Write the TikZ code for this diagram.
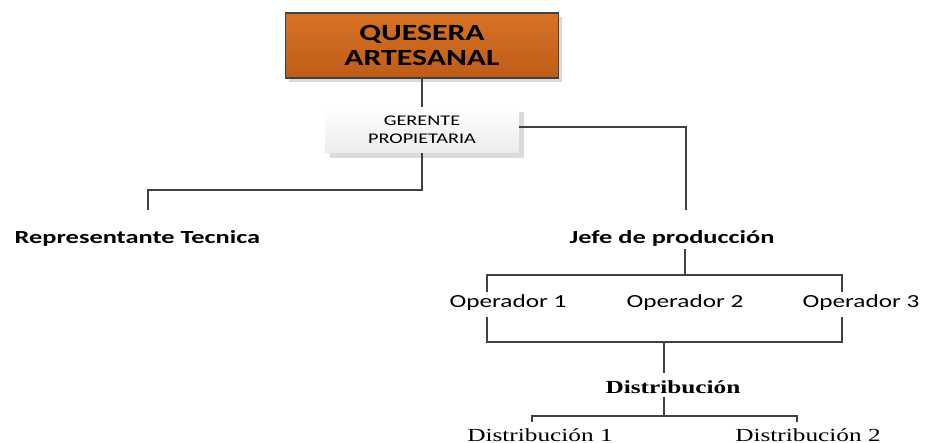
\documentclass[tikz,border=0pt]{standalone}
\usepackage{fontspec}
\setmainfont{Carlito}
\newfontfamily\distfont{Liberation Serif}
\usepackage{graphicx}
\usepackage{xcolor}
\definecolor{orange-top}{RGB}{216,114,36}
\definecolor{orange-bottom}{RGB}{190,92,24}
\definecolor{gray-800}{RGB}{64,64,64}
\definecolor{gray-250}{RGB}{218,218,218}
\definecolor{gray-100}{RGB}{236,236,236}
\usepackage{tikz}
\usetikzlibrary{shadows}

\newcommand{\widetext}[1]{\scalebox{1.37}[1]{#1}}
\newcommand{\widerbold}[1]{\scalebox{1.43}[1]{#1}}

\begin{document}
\begin{tikzpicture}[
    x=0.02cm, y=-0.02cm,
    every node/.style={inner sep=0pt},
    link/.style={draw=gray-800, line width=1.3pt},
    orgtext/.style={font=\fontsize{10.5}{12}\selectfont\bfseries}
]

\useasboundingbox (0,0) rectangle (938,443);

% Company box
\node[
    draw=gray-800,
    line width=0.8pt,
    top color=orange-top,
    bottom color=orange-bottom,
    minimum width=5.46cm,
    minimum height=1.3cm,
    align=center,
    font=\fontsize{13.2}{14.5}\selectfont\bfseries,
    drop shadow={shadow xshift=2.2pt, shadow yshift=-2.2pt, fill=gray-250, opacity=1}
] (quesera) at (422,45.5) {\widetext{QUESERA}\\\widetext{ARTESANAL}};

% Manager box
\node[
    top color=white,
    bottom color=gray-100,
    minimum width=3.88cm,
    minimum height=0.92cm,
    align=center,
    font=\fontsize{8.4}{10.2}\selectfont,
    drop shadow={shadow xshift=2.8pt, shadow yshift=-2.8pt, fill=gray-250, opacity=1}
] (gerente) at (422,130) {\widetext{GERENTE}\\\widetext{PROPIETARIA}};

% Second level
\node[orgtext] (rep) at (137.5,238) {\widerbold{Representante Tecnica}};
\node[orgtext] (jefe) at (672,238) {\widerbold{Jefe de producción}};

% Operators
\node[font=\fontsize{10.5}{12}\selectfont] (op1) at (508,303) {\widetext{Operador 1}};
\node[font=\fontsize{10.5}{12}\selectfont] (op2) at (685,303) {\widetext{Operador 2}};
\node[font=\fontsize{10.5}{12}\selectfont] (op3) at (861,303) {\widetext{Operador 3}};

% Distribution
\node[font=\distfont\fontsize{10.5}{12}\selectfont\bfseries] (dist) at (673,387) {\widetext{Distribución}};
\node[font=\distfont\fontsize{10.5}{12}\selectfont] (dist1) at (540,435) {\widetext{Distribución 1}};
\node[font=\distfont\fontsize{10.5}{12}\selectfont] (dist2) at (808,435) {\widetext{Distribución 2}};

% Connectors
\draw[link] (quesera.south) -- (gerente.north);
\draw[link] ([yshift=0.06cm]gerente.east) -| ([shift={(14,-28)}]jefe.center);
\draw[link] (gerente.south) -- ++(0,37) -| ([shift={(10.5,-28)}]rep.center);

\draw[link] ([shift={(13,11)}]jefe.center) -- ++(0,26) coordinate (opbus);
\draw[link] ([shift={(-21,-11)}]op1.center) |- (opbus) -| ([shift={(-19,-11)}]op3.center);

\draw[link] ([shift={(-21,14)}]op1.center) -- ++(0,25) coordinate (opbase) -| ([shift={(-19,14)}]op3.center);
\draw[link] ([shift={(-9,-14)}]dist.center) |- (opbase);

\draw[link] ([shift={(-9,10)}]dist.center) -- ++(0,19) coordinate (distbus);
\draw[link] ([shift={(-8,-13)}]dist1.center) |- (distbus) -| ([shift={(-11,-13)}]dist2.center);

\end{tikzpicture}
\end{document}
